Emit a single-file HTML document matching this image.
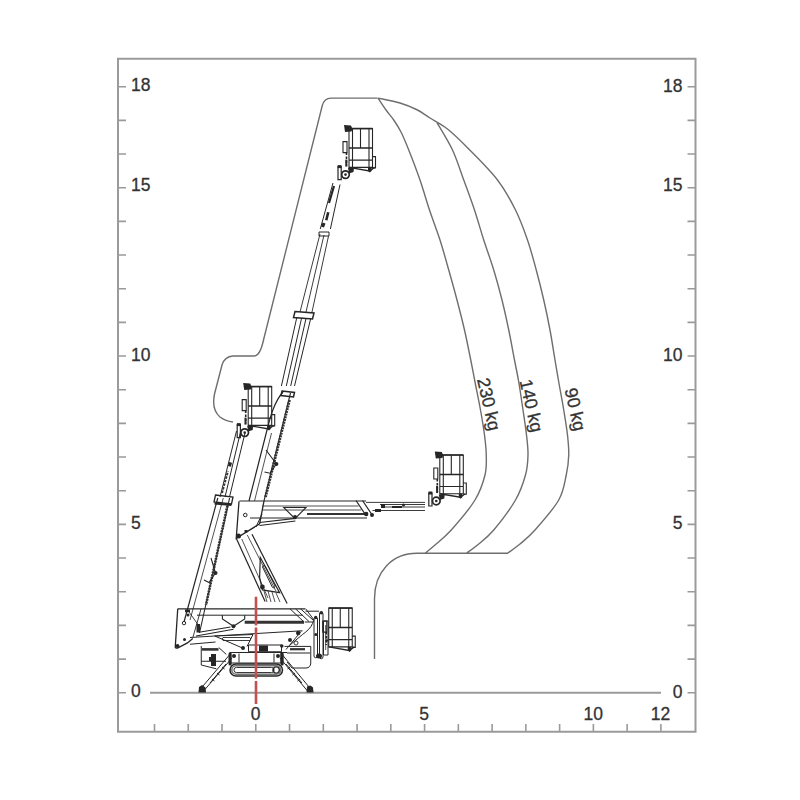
<!DOCTYPE html>
<html><head><meta charset="utf-8"><style>
html,body{margin:0;padding:0;background:#fff;}
svg{display:block;}
</style></head><body>
<svg width="800" height="800" viewBox="0 0 800 800">
<rect width="800" height="800" fill="#fff"/>
<rect x="118" y="58.75" width="577.5" height="673" fill="none" stroke="#9a9a9a" stroke-width="2"/>
<path d="M118 692.75H126M687.5 692.75H695.5M118 659.08H126M687.5 659.08H695.5M118 625.41H126M687.5 625.41H695.5M118 591.74H126M687.5 591.74H695.5M118 558.07H126M687.5 558.07H695.5M118 524.40H126M687.5 524.40H695.5M118 490.73H126M687.5 490.73H695.5M118 457.06H126M687.5 457.06H695.5M118 423.39H126M687.5 423.39H695.5M118 389.72H126M687.5 389.72H695.5M118 356.05H126M687.5 356.05H695.5M118 322.38H126M687.5 322.38H695.5M118 288.71H126M687.5 288.71H695.5M118 255.04H126M687.5 255.04H695.5M118 221.37H126M687.5 221.37H695.5M118 187.70H126M687.5 187.70H695.5M118 154.03H126M687.5 154.03H695.5M118 120.36H126M687.5 120.36H695.5M118 86.69H126M687.5 86.69H695.5M154.50 731.75V724M188.26 731.75V724M222.02 731.75V724M255.78 731.75V724M289.54 731.75V724M323.30 731.75V724M357.06 731.75V724M390.82 731.75V724M424.58 731.75V724M458.34 731.75V724M492.10 731.75V724M525.86 731.75V724M559.62 731.75V724M593.38 731.75V724M627.14 731.75V724M660.90 731.75V724" stroke="#9a9a9a" stroke-width="1.6" fill="none"/>
<path d="M150 692.75H661" stroke="#9a9a9a" stroke-width="2" fill="none"/>
<g font-family="Liberation Sans, sans-serif" font-size="17.5" fill="#333" stroke="#333" stroke-width="0.3"><text x="131" y="697.35">0</text><text x="682.5" y="697.65" text-anchor="end">0</text><text x="131" y="529.00">5</text><text x="682.5" y="529.30" text-anchor="end">5</text><text x="131" y="360.65">10</text><text x="682.5" y="360.95" text-anchor="end">10</text><text x="131" y="191.10">15</text><text x="682.5" y="191.40" text-anchor="end">15</text><text x="131" y="91.29">18</text><text x="682.5" y="91.59" text-anchor="end">18</text><text x="255.5" y="720.3" text-anchor="middle">0</text><text x="424.2" y="720.3" text-anchor="middle">5</text><text x="593.2" y="720.3" text-anchor="middle">10</text><text x="660.5" y="720.3" text-anchor="middle">12</text></g>
<path d="M377.5 98.1H331C326 98.1 323.5 101 322.3 105.5L263.5 340C262 347 259.5 356 254 356H233C227 356.4 223.5 360 222 365L214.5 394C212.5 404 214 412 220 417C224 420 228 421.5 233 422M508 553.25H417C392 553.25 374.5 572 374.5 598.5V659M378.00 98.10C381.67 98.92 393.42 101.02 400.00 103.00C406.58 104.98 412.50 107.50 417.50 110.00C422.50 112.50 425.00 114.83 430.00 118.00C435.00 121.17 441.04 123.83 447.50 129.00C453.96 134.17 460.42 140.50 468.75 149.00C477.08 157.50 489.71 169.83 497.50 180.00C505.29 190.17 510.50 200.00 515.50 210.00C520.50 220.00 524.04 230.00 527.50 240.00C530.96 250.00 533.54 260.00 536.25 270.00C538.96 280.00 541.46 290.00 543.75 300.00C546.04 310.00 548.12 320.00 550.00 330.00C551.88 340.00 553.54 351.33 555.00 360.00C556.46 368.67 557.29 373.67 558.75 382.00C560.21 390.33 562.29 401.17 563.75 410.00C565.21 418.83 566.67 427.50 567.50 435.00C568.33 442.50 568.96 448.33 568.75 455.00C568.54 461.67 567.92 467.50 566.25 475.00C564.58 482.50 563.96 490.83 558.75 500.00C553.54 509.17 541.46 522.67 535.00 530.00C528.54 537.33 524.58 540.12 520.00 544.00C515.42 547.88 509.58 551.71 507.50 553.25M437.00 122.60C439.58 127.17 448.04 140.43 452.50 150.00C456.96 159.57 460.08 170.00 463.75 180.00C467.42 190.00 471.17 200.00 474.50 210.00C477.83 220.00 480.54 230.00 483.75 240.00C486.96 250.00 490.71 260.00 493.75 270.00C496.79 280.00 499.50 290.00 502.00 300.00C504.50 310.00 506.67 320.00 508.75 330.00C510.83 340.00 512.83 351.33 514.50 360.00C516.17 368.67 517.33 373.67 518.75 382.00C520.17 390.33 521.71 401.17 523.00 410.00C524.29 418.83 525.67 427.50 526.50 435.00C527.33 442.50 528.17 448.33 528.00 455.00C527.83 461.67 527.58 467.50 525.50 475.00C523.42 482.50 520.79 490.83 515.50 500.00C510.21 509.17 500.08 522.50 493.75 530.00C487.42 537.50 482.08 541.12 477.50 545.00C472.92 548.88 468.12 551.88 466.25 553.25M378.00 98.10C379.33 100.08 383.38 106.35 386.00 110.00C388.62 113.65 391.25 116.33 393.75 120.00C396.25 123.67 398.50 127.00 401.00 132.00C403.50 137.00 405.58 142.00 408.75 150.00C411.92 158.00 416.54 170.00 420.00 180.00C423.46 190.00 426.17 200.00 429.50 210.00C432.83 220.00 436.79 230.00 440.00 240.00C443.21 250.00 445.92 260.00 448.75 270.00C451.58 280.00 454.38 290.00 457.00 300.00C459.62 310.00 462.21 320.00 464.50 330.00C466.79 340.00 469.00 351.33 470.75 360.00C472.50 368.67 473.38 373.67 475.00 382.00C476.62 390.33 478.92 401.17 480.50 410.00C482.08 418.83 483.54 427.50 484.50 435.00C485.46 442.50 486.17 448.33 486.25 455.00C486.33 461.67 486.88 467.50 485.00 475.00C483.12 482.50 480.62 490.83 475.00 500.00C469.38 509.17 457.92 522.50 451.25 530.00C444.58 537.50 439.38 541.12 435.00 545.00C430.62 548.88 426.67 551.88 425.00 553.25" stroke="#6e6e6e" stroke-width="1.4" fill="none"/>
<g font-family="Liberation Sans, sans-serif" font-size="17.8" fill="#333" stroke="#333" stroke-width="0.3"><text transform="translate(477 379.5) rotate(77)">230 kg</text><text transform="translate(519.5 381) rotate(77)">140 kg</text><text transform="translate(564.5 389.5) rotate(77)">90 kg</text></g>
<path d="M248.2 386.6H271.7V425.40000000000003H248.2ZM251.7 386.6V425.40000000000003M268.2 386.6V425.40000000000003M259.7 386.6V406.0M248.2 418.1H271.7M271.7 414.6h3V425.90000000000003h-3" stroke="#262626" stroke-width="1.1" fill="none" />
<path d="M248.2 386.6H271.7M248.2 406.0H271.7" stroke="#262626" stroke-width="1.5" fill="none" />
<path d="M248.2 425.40000000000003L268.7 428.90000000000003L273.7 425.40000000000003" stroke="#262626" stroke-width="1.4" fill="none" />
<path d="M267.2 425.40000000000003h3.5v3.5l-1.7 1.5l-1.8-1.5Z" fill="#262626"/>
<path d="M242.2 399.6h4v11h-4Z" stroke="#262626" stroke-width="1.1" fill="none" />
<path d="M245.7 410.6V423.6" stroke="#262626" stroke-width="1.6" fill="none" stroke-dasharray="2.5 1.5"/>
<path d="M237.2 424.6h3.2v13h-3.2z" stroke="#262626" stroke-width="1.2" fill="none" />
<path d="M236.89999999999998 423.1h3.8v3h-3.8z" fill="#262626"/>
<path d="M244.7 432.6m-3.8 0a3.8 3.8 0 1 0 7.6 0a3.8 3.8 0 1 0-7.6 0" stroke="#262626" stroke-width="1.7" fill="none" />
<path d="M243.39999999999998 432.6a1.3 1.3 0 1 0 2.6 0a1.3 1.3 0 1 0-2.6 0z" fill="#262626"/>
<path d="M247.2 426.1L253.2 425.6L252.7 430.1L248.2 431.6Z" fill="#262626"/>
<path d="M245.5 417.6V424.6" stroke="#262626" stroke-width="2.0" fill="none" />
<path d="M243.2 383.1L250.2 383.6L251.7 387.1L250.7 389.6L244.2 390.1Z" fill="#262626"/>
<path d="M349 128.6H372.5V167.39999999999998H349ZM352.5 128.6V167.39999999999998M369.0 128.6V167.39999999999998M360.5 128.6V148.0M349 160.1H372.5M372.5 156.6h3V167.89999999999998h-3" stroke="#262626" stroke-width="1.1" fill="none" />
<path d="M349 128.6H372.5M349 148.0H372.5" stroke="#262626" stroke-width="1.5" fill="none" />
<path d="M349 167.39999999999998L369.5 170.89999999999998L374.5 167.39999999999998" stroke="#262626" stroke-width="1.4" fill="none" />
<path d="M368 167.39999999999998h3.5v3.5l-1.7 1.5l-1.8-1.5Z" fill="#262626"/>
<path d="M343 141.6h4v11h-4Z" stroke="#262626" stroke-width="1.1" fill="none" />
<path d="M346.5 152.6V165.6" stroke="#262626" stroke-width="1.6" fill="none" stroke-dasharray="2.5 1.5"/>
<path d="M338 166.6h3.2v13h-3.2z" stroke="#262626" stroke-width="1.2" fill="none" />
<path d="M337.7 165.1h3.8v3h-3.8z" fill="#262626"/>
<path d="M345.5 174.6m-3.8 0a3.8 3.8 0 1 0 7.6 0a3.8 3.8 0 1 0-7.6 0" stroke="#262626" stroke-width="1.7" fill="none" />
<path d="M344.2 174.6a1.3 1.3 0 1 0 2.6 0a1.3 1.3 0 1 0-2.6 0z" fill="#262626"/>
<path d="M348 168.1L354 167.6L353.5 172.1L349 173.6Z" fill="#262626"/>
<path d="M346.3 159.6V166.6" stroke="#262626" stroke-width="2.0" fill="none" />
<path d="M344 125.1L351 125.6L352.5 129.1L351.5 131.6L345 132.1Z" fill="#262626"/>
<path d="M439.8 455H463.3V493.8H439.8ZM443.3 455V493.8M459.8 455V493.8M451.3 455V474.4M439.8 486.5H463.3M463.3 483h3V494.3h-3" stroke="#262626" stroke-width="1.1" fill="none" />
<path d="M439.8 455H463.3M439.8 474.4H463.3" stroke="#262626" stroke-width="1.5" fill="none" />
<path d="M439.8 493.8L460.3 497.3L465.3 493.8" stroke="#262626" stroke-width="1.4" fill="none" />
<path d="M458.8 493.8h3.5v3.5l-1.7 1.5l-1.8-1.5Z" fill="#262626"/>
<path d="M433.8 468h4v11h-4Z" stroke="#262626" stroke-width="1.1" fill="none" />
<path d="M437.3 479V492" stroke="#262626" stroke-width="1.6" fill="none" stroke-dasharray="2.5 1.5"/>
<path d="M428.8 493h3.2v13h-3.2z" stroke="#262626" stroke-width="1.2" fill="none" />
<path d="M428.5 491.5h3.8v3h-3.8z" fill="#262626"/>
<path d="M436.3 501m-3.8 0a3.8 3.8 0 1 0 7.6 0a3.8 3.8 0 1 0-7.6 0" stroke="#262626" stroke-width="1.7" fill="none" />
<path d="M435.0 501a1.3 1.3 0 1 0 2.6 0a1.3 1.3 0 1 0-2.6 0z" fill="#262626"/>
<path d="M438.8 494.5L444.8 494L444.3 498.5L439.8 500Z" fill="#262626"/>
<path d="M437.1 486V493" stroke="#262626" stroke-width="2.0" fill="none" />
<path d="M434.8 451.5L441.8 452L443.3 455.5L442.3 458L435.8 458.5Z" fill="#262626"/>
<path d="M328.75 608.1H352.25V646.9H328.75ZM332.25 608.1V646.9M348.75 608.1V646.9M340.25 608.1V627.5M328.75 639.6H352.25M352.25 636.1h3V647.4h-3" stroke="#262626" stroke-width="1.1" fill="none" />
<path d="M328.75 608.1H352.25M328.75 627.5H352.25" stroke="#262626" stroke-width="1.5" fill="none" />
<path d="M328.75 646.9L349.25 650.4L354.25 646.9" stroke="#262626" stroke-width="1.4" fill="none" />
<path d="M347.75 646.9h3.5v3.5l-1.7 1.5l-1.8-1.5Z" fill="#262626"/>
<path d="M322.75 621.1h4v11h-4Z" stroke="#262626" stroke-width="1.1" fill="none" />
<path d="M326.25 632.1V645.1" stroke="#262626" stroke-width="1.6" fill="none" stroke-dasharray="2.5 1.5"/>
<path d="M249 501L267 430C270 418 274 402 283 392" stroke="#262626" stroke-width="1.2" fill="none" />
<path d="M254.5 501L271.5 433" stroke="#262626" stroke-width="0.8" fill="none" />
<path d="M264 501L290.5 393" stroke="#262626" stroke-width="1.1" fill="none" />
<path d="M265.5 497L289.5 400" stroke="#333" stroke-width="2.8" fill="none" stroke-dasharray="2 0.8"/>
<path d="M266 450L276.4 464L270 473.25L264.5 472" stroke="#262626" stroke-width="1.1" fill="none" />
<path d="M274.4 464a2 2 0 1 0 4 0a2 2 0 1 0-4 0z" fill="#262626"/>
<path d="M282 391L294.5 392.5L293.5 397L281 395.5Z" stroke="#262626" stroke-width="1.5" fill="none" />
<path d="M281.4 386L296.7 318M286.3 386L301.6 318M290.7 386L306.1 318M294.5 386L310.8 318" stroke="#262626" stroke-width="1.0" fill="none" />
<path d="M295 311.5L314 313L312.5 319L293.5 317.5Z" stroke="#262626" stroke-width="1.5" fill="none" />
<path d="M300 312L320 234M312 312L328.5 236M306 312L324 235" stroke="#262626" stroke-width="0.9" fill="none" />
<path d="M319 232h10v4h-10z" stroke="#262626" stroke-width="1.0" fill="none" />
<path d="M320.25 229L333 183M330.4 229L340 184.5" stroke="#262626" stroke-width="1.0" fill="none" />
<path d="M329.00 203.00 L334.00 186.00" stroke="#262626" stroke-width="2.2" fill="none" />
<path d="M322.5 222.5l3 1l-1.5 4l-3-1z" fill="#262626"/>
<path d="M327 212l2.5 0.5l-2 8l-2.5-0.5z" fill="#262626"/>
<path d="M217.8 498L184 622" stroke="#262626" stroke-width="1.2" fill="none" />
<path d="M223.3 498L190 620" stroke="#262626" stroke-width="0.8" fill="none" />
<path d="M229.6 498L199.5 633" stroke="#262626" stroke-width="1.1" fill="none" />
<path d="M228 503L206 605" stroke="#333" stroke-width="2.6" fill="none" stroke-dasharray="2 0.8"/>
<path d="M211 558L215.5 573L209 582.6L204 580" stroke="#262626" stroke-width="1.1" fill="none" />
<path d="M213.5 573a2 2 0 1 0 4 0a2 2 0 1 0-4 0z" fill="#262626"/>
<path d="M215.5 495L233 497L231.5 504L214 502Z" stroke="#262626" stroke-width="1.3" fill="none" />
<path d="M214.5 503.5L231.5 505" stroke="#262626" stroke-width="2.0" fill="none" />
<path d="M236.5 431L220 497M245 433L229.5 497M240.5 432L225 497" stroke="#262626" stroke-width="1.0" fill="none" />
<path d="M229 462l3 0.8l-1 4l-3-0.8z" fill="#262626"/>
<path d="M222 493l6-22" stroke="#333" stroke-width="2.0" fill="none" stroke-dasharray="2.5 1.2"/>
<path d="M239.4 501H366M250 518H367" stroke="#262626" stroke-width="1.2" fill="none" />
<path d="M262 506H358.5M262 510H361" stroke="#262626" stroke-width="0.8" fill="none" />
<path d="M307 514H365" stroke="#333" stroke-width="2.2" fill="none" />
<path d="M356 500.5L366 515.5M362.5 500.5L372.5 515.5" stroke="#262626" stroke-width="1.2" fill="none" />
<path d="M364 514a2.2 2.2 0 1 0 4.4 0a2.2 2.2 0 1 0-4.4 0zM370 515a2 2 0 1 0 4 0a2 2 0 1 0-4 0z" fill="#262626"/>
<path d="M366 502.4H425M372.5 510.5H425M380 504.5H425M382 507H425" stroke="#262626" stroke-width="0.9" fill="none" />
<path d="M381 504h4v4h-4zM392 506h10v2h-10zM402 505a1.5 1.5 0 1 0 3 0a1.5 1.5 0 1 0-3 0zM375 509h6v3h-6z" fill="#262626"/>
<path d="M283.75 507.50 L306.00 507.50 L295.00 518.75Z" stroke="#262626" stroke-width="1.1" fill="none" />
<path d="M293 517a2 2 0 1 0 4 0a2 2 0 1 0-4 0z" fill="#262626"/>
<path d="M259.6 522.5L295.4 518.4M259.6 525.5L295.4 521" stroke="#262626" stroke-width="1.2" fill="none" />
<path d="M239 501.2L236.25 538.3L259.6 523.9L264 501" stroke="#262626" stroke-width="1.3" fill="none" />
<path d="M243.5 515a1.8 1.8 0 1 0 3.6 0a1.8 1.8 0 1 0-3.6 0z" stroke="#262626" stroke-width="1" fill="none" />
<path d="M244.5 530h3v2.5h-3z" fill="#262626"/>
<path d="M262 514L256 527" stroke="#262626" stroke-width="1.0" fill="none" />
<path d="M236 536a2.5 2.5 0 1 0 5 0a2.5 2.5 0 1 0-5 0z" fill="#262626"/>
<path d="M236.25 538.30 L265.10 601.50" stroke="#262626" stroke-width="1.2" fill="none" />
<path d="M241.75 539.00 L268.00 598.00" stroke="#262626" stroke-width="0.8" fill="none" />
<path d="M247.25 534.90 L276.00 591.25" stroke="#262626" stroke-width="0.8" fill="none" />
<path d="M252.00 534.20 L287.10 603.60" stroke="#262626" stroke-width="1.2" fill="none" />
<path d="M260.30 557.50 L279.60 592.60 L262.40 589.90 L259.60 577.50Z" stroke="#262626" stroke-width="1.2" fill="none" />
<path d="M265 566L275 586a1.5 1.5 0 0 1-2.6 1.3L262.5 567a1.5 1.5 0 0 1 2.5-1z" stroke="#262626" stroke-width="1.0" fill="none" />
<path d="M260 587a2.4 2.4 0 1 0 4.8 0a2.4 2.4 0 1 0-4.8 0z" fill="#262626"/>
<path d="M264 591l3 11M268 591l3 11M272 592l3 10M276 593l4 9" stroke="#262626" stroke-width="0.8" fill="none" />
<path d="M177.75 608.8L175.25 647C175.3 648 176 648.3 177.5 648.1L187.5 642.9L192.75 638.5" stroke="#262626" stroke-width="1.3" fill="none" />
<path d="M182.3 623.1a1.7 1.7 0 1 0 3.4 0a1.7 1.7 0 1 0-3.4 0z" stroke="#262626" stroke-width="1" fill="none" />
<path d="M185 609.4h5v2.8h-5zM186.5 615a1.5 1.5 0 1 0 3 0a1.5 1.5 0 1 0-3 0zM183 639.4a1.5 1.5 0 1 0 3 0a1.5 1.5 0 1 0-3 0zM175.5 646a2 2 0 1 0 4 0a2 2 0 1 0-4 0zM196.5 624h3.5v8.5h-3.5z" fill="#262626"/>
<path d="M189 612L199 626M201 609L193 637" stroke="#262626" stroke-width="0.9" fill="none" />
<path d="M177.75 608.8H292.5L305 608.8" stroke="#262626" stroke-width="1.3" fill="none" />
<path d="M197 615.2H303" stroke="#262626" stroke-width="1.0" fill="none" />
<path d="M222.4 615.2V619L233.5 626.25L244.7 619V615.2" stroke="#262626" stroke-width="1.1" fill="none" />
<path d="M244.7 622.3H304" stroke="#333" stroke-width="3.0" fill="none" />
<path d="M290 608.8L304 622M295.5 608.8L309 621.5M300.5 608.8L313 620M305.5 608.6L314 620L312.5 623.5M305.5 611.2H319M304.75 622H313M312.5 623.5C311 628 306 632 302.5 634.5L290 645" stroke="#262626" stroke-width="1.0" fill="none" />
<path d="M231.5 626.25a2 2 0 1 0 4 0a2 2 0 1 0-4 0z" fill="#262626"/>
<path d="M199 632.25L230.5 627M196 636L233.5 629.25" stroke="#262626" stroke-width="1.1" fill="none" />
<path d="M190 637.5L302.5 630.75M214.75 636L253 634.5" stroke="#262626" stroke-width="1.0" fill="none" />
<path d="M214.75 636L242.5 648M253 634.5L247 646.5M301 631.5L286 649.5" stroke="#262626" stroke-width="1.0" fill="none" />
<path d="M223 637.5H250a2 2 0 0 1 0 3H223a2 2 0 0 1 0-3z" stroke="#262626" stroke-width="0.9" fill="none" />
<path d="M248.5 645H281.5V651.75H248.5Z" stroke="#262626" stroke-width="1.0" fill="none" />
<path d="M259 645.5h9v6h-9z" fill="#262626"/>
<path d="M247 652.5H287M190 644.25L215.5 642" stroke="#262626" stroke-width="1.0" fill="none" />
<path d="M241 648a2 2 0 1 0 4 0a2 2 0 1 0-4 0zM288 640a2 2 0 1 0 4 0a2 2 0 1 0-4 0zM296 633a2.2 2.2 0 1 0 4.4 0a2.2 2.2 0 1 0-4.4 0zM280 646a1.8 1.8 0 1 0 3.6 0a1.8 1.8 0 1 0-3.6 0z" fill="#262626"/>
<path d="M294 643a2 2 0 1 0 4 0a2 2 0 1 0-4 0z" stroke="#262626" stroke-width="0.9" fill="none" />
<path d="M314 619a1.75 1.75 0 0 1 3.5 0V656a1.75 1.75 0 0 1-3.5 0ZM319.5 614a1.75 1.75 0 0 1 3.5 0V657a1.75 1.75 0 0 1-3.5 0Z" stroke="#262626" stroke-width="1.0" fill="none" />
<path d="M319.5 612.8a1.8 1.8 0 1 0 3.6 0a1.8 1.8 0 1 0-3.6 0zM314.3 634.5a1.5 1.5 0 1 0 3 0a1.5 1.5 0 1 0-3 0zM314 617.5a1.7 1.7 0 1 0 3.4 0a1.7 1.7 0 1 0-3.4 0zM316 656a3 2.5 0 1 0 6 0a3 2.5 0 1 0-6 0zM325.5 640.5a1.3 1.3 0 1 0 2.6 0a1.3 1.3 0 1 0-2.6 0z" fill="#262626"/>
<path d="M323.5 621h4.5v34h-4.5z" stroke="#262626" stroke-width="1.0" fill="none" />
<path d="M325.7 625V650" stroke="#262626" stroke-width="0.8" fill="none" />
<path d="M201.25 646V665L216.25 668.75M201.25 661.25H226M218.75 647.5L226.25 654.4" stroke="#262626" stroke-width="1.0" fill="none" />
<path d="M202 649.4H218.5" stroke="#333" stroke-width="2.6" fill="none" />
<path d="M211 654h5v12h-5zM209 657h3v4h-3z" fill="#262626"/>
<path d="M228.5 654a1.6 1.6 0 0 1 3.2 0v10a1.6 1.6 0 0 1-3.2 0z" fill="#262626"/>
<path d="M284.5 646.4H310.75V663C310.75 666 309 668 306 668H292L287 662M287 653H310" stroke="#262626" stroke-width="1.0" fill="none" />
<path d="M290 649.2H305" stroke="#333" stroke-width="2.2" fill="none" />
<path d="M280.5 654a1.6 1.6 0 0 1 3.2 0v10a1.6 1.6 0 0 1-3.2 0z" fill="#262626"/>
<path d="M230 652.5H281V663H230Z" stroke="#262626" stroke-width="1.1" fill="none" />
<path d="M239 653.5V662.5M274 653.5V662.5" stroke="#262626" stroke-width="1.0" fill="none" />
<path d="M232 656a2 2 0 1 0 4 0a2 2 0 1 0-4 0zM276 656a2 2 0 1 0 4 0a2 2 0 1 0-4 0z" fill="#262626"/>
<path d="M236 664H276.5A6 6 0 0 1 282.5 670A6 6 0 0 1 276.5 676H236A6 6 0 0 1 230 670A6 6 0 0 1 236 664Z" stroke="#262626" stroke-width="1.5" fill="none" />
<path d="M236.5 667.4H271.5A2.6 2.6 0 0 1 271.5 672.6H236.5A2.6 2.6 0 0 1 236.5 667.4Z" stroke="#262626" stroke-width="1.0" fill="none" />
<path d="M276.25 666.8a3.2 3.2 0 1 0 0.01 0" stroke="#262626" stroke-width="1.6" fill="none" />
<path d="M236 665.8H276.5A4.2 4.2 0 0 1 276.5 674.2H236A4.2 4.2 0 0 1 236 665.8Z" stroke="#777" stroke-width="1.6" fill="none" />
<path d="M229.4 655L200.6 688.75M232 658L203.6 691" stroke="#262626" stroke-width="1.0" fill="none" />
<path d="M226 664L210 683M222 667l2.5 2M217 673l2.5 2M212 679l2.5 2" stroke="#262626" stroke-width="1.0" fill="none" />
<path d="M282.5 655L310.5 688.75M280 658L307.5 691" stroke="#262626" stroke-width="1.0" fill="none" />
<path d="M286 664L302 683M290 667l-2.5 2M295 673l-2.5 2M300 679l-2.5 2" stroke="#262626" stroke-width="1.0" fill="none" />
<path d="M199 687l3-2l3.5 2.5l0.5 5h-7.5z" fill="#262626"/>
<path d="M307 686.5l3.5-1l2.5 2l0.5 5h-7z" fill="#262626"/>
<path d="M256 596.8V625.6M256 627.6V678.4M256 680.9V704" stroke="#c4504e" stroke-width="2.6" fill="none" />
</svg>
</body></html>
